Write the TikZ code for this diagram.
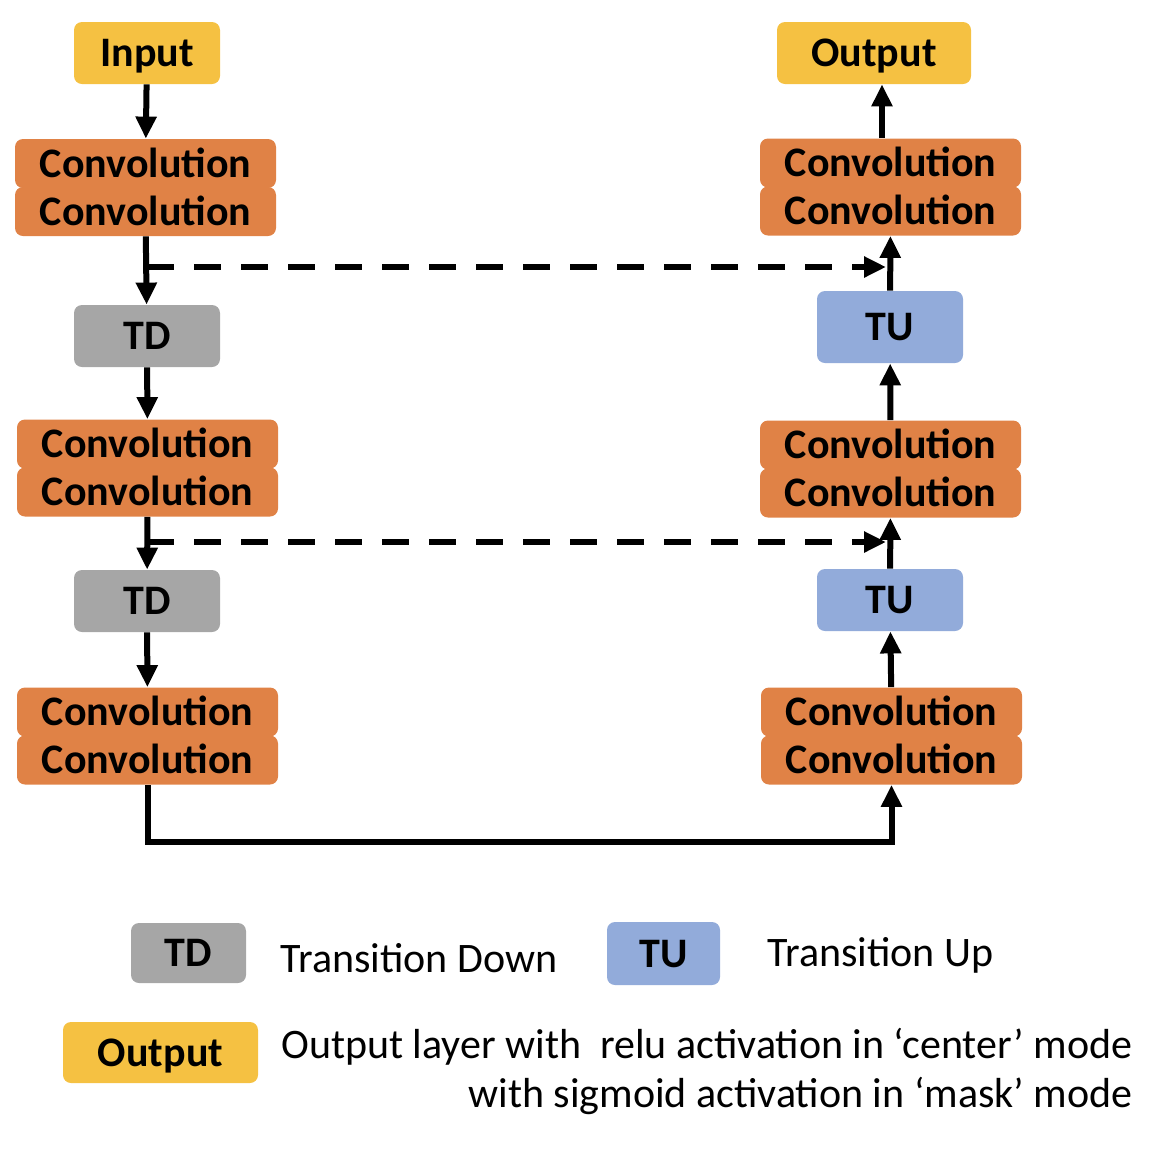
\documentclass[tikz,border=0pt]{standalone}
\usepackage{fontspec}
\setmainfont{Carlito}
\usetikzlibrary{arrows.meta}

\definecolor{convorange}{RGB}{224,130,70}
\definecolor{ioyellow}{RGB}{245,193,66}
\definecolor{tdgray}{RGB}{166,166,166}
\definecolor{tublue}{RGB}{146,171,218}

\begin{document}
\begin{tikzpicture}
[x=0.5pt,y=-0.5pt,
every node/.style={inner sep=0pt,font=\fontsize{21}{24}\selectfont},
block/.style={rounded corners=4pt,font=\fontsize{21}{24}\selectfont\bfseries,text height=15.5pt,text depth=2pt},
conv/.style={block,fill=convorange,minimum width=130.5pt,minimum height=24.5pt},
iobox/.style={block,fill=ioyellow,minimum width=73pt,minimum height=31pt},
tdbox/.style={block,fill=tdgray,minimum width=73pt,minimum height=31pt},
tubox/.style={block,fill=tublue,minimum width=73pt,minimum height=31pt},
flow/.style={line width=3pt,-{Triangle[length=11pt,width=10pt]}},
skip/.style={line width=3pt,dash pattern=on 13.5pt off 10pt,-{Triangle[length=11pt,width=10pt]},shorten >=2pt}]
\useasboundingbox (0,0) rectangle (1162,1152);
% encoder
\node[iobox] (in) at (147,53) {Input};
\node[conv] (c1a) at (145.5,163.5) {Convolution};
\node[conv] (c1b) at (145.5,211.5) {Convolution};
\node[tdbox] (td1) at (147,336) {TD};
\node[conv] (c2a) at (147.5,444) {Convolution};
\node[conv] (c2b) at (147.5,492) {Convolution};
\node[tdbox] (td2) at (147,601) {TD};
\node[conv] (c3a) at (147.5,712) {Convolution};
\node[conv] (c3b) at (147.5,760) {Convolution};
% decoder
\node[iobox,minimum width=97pt] (out) at (874,53) {Output};
\node[conv] (r1a) at (890.5,163) {Convolution};
\node[conv] (r1b) at (890.5,211) {Convolution};
\node[tubox,minimum height=36pt] (tu1) at (890,327) {TU};
\node[conv] (r2a) at (890.5,445) {Convolution};
\node[conv] (r2b) at (890.5,493) {Convolution};
\node[tubox] (tu2) at (890,600) {TU};
\node[conv] (r3a) at (891.5,712) {Convolution};
\node[conv] (r3b) at (891.5,760) {Convolution};
% connections
\foreach \from/\to in {in/c1a,c1b/td1,td1/c2a,c2b/td2,td2/c3a,r3a/tu2,tu2/r2b,r2a/tu1,tu1/r1b}
\draw[flow] (\from) -- (\to);
\draw[flow] ([xshift=-4.25pt]r1a.north) -- ([xshift=4pt]out.south);
\draw[flow] (c3b.south) -- ++(0,57) -| (r3b.south);
\coordinate (s1) at (147,267);
\coordinate (s2) at (147,542);
\draw[skip] (s1) -- (s1 -| tu1.north);
\draw[skip] (s2) -- (s2 -| tu2.north);
% legend
\node[tdbox,minimum width=57.5pt,minimum height=30pt] (ltd) at (188.5,953) {TD};
\node[anchor=west] (ltdtext) at (280,958) {Transition Down};
\node[tubox,minimum width=56.5pt,minimum height=31.5pt] (ltu) at (663.5,953.5) {TU};
\node[anchor=west] (ltutext) at (767,955) {Transition Up};
\node[iobox,minimum width=97.5pt,minimum height=30.5pt] (lout) at (160.5,1052.5) {Output};
\node[anchor=base east] (louttext) at (1133,1058) {Output layer with \ relu activation in ‘center’ mode};
\node[anchor=base east] (louttext2) at (1133,1107) {with sigmoid activation in ‘mask’ mode};
\end{tikzpicture}
\end{document}
